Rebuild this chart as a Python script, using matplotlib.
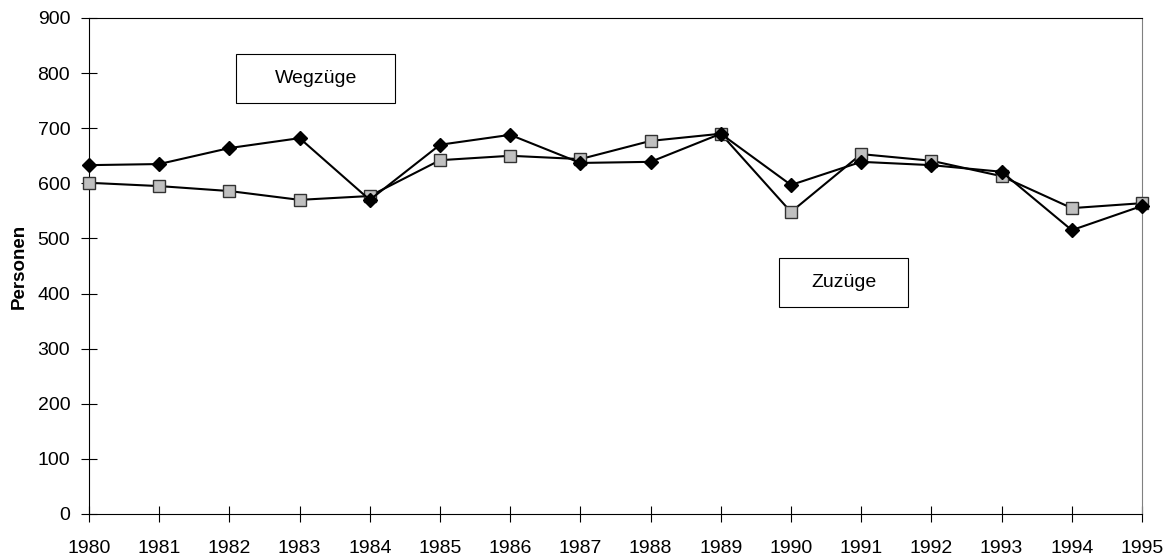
import matplotlib
matplotlib.use('Agg')
import matplotlib.pyplot as plt
from matplotlib.patches import Rectangle

plt.rcParams['font.family'] = ['Liberation Sans', 'DejaVu Sans']

years = list(range(1980, 1996))
wegzuege = [633, 635, 664, 682, 570, 670, 688, 637, 639, 690, 597, 639, 633, 621, 515, 559]
zuzuege = [601, 595, 586, 570, 577, 642, 650, 644, 677, 690, 548, 653, 641, 613, 555, 564]
yticks = list(range(0, 1000, 100))

fig = plt.figure(figsize=(11.68, 5.58), dpi=100)
ax = fig.add_axes([89 / 1168, 1 - 514 / 558, (1142 - 89) / 1168, (514 - 18) / 558])

ax.plot(years, zuzuege, color='black', lw=1.5, marker='s', ms=8,
        mfc='#c0c0c0', mec='#333333', mew=1.0, zorder=3, clip_on=False)
ax.plot(years, wegzuege, color='black', lw=1.5, marker='D', ms=7,
        mfc='black', mec='black', zorder=4, clip_on=False)

ax.set_xlim(1980, 1995)
ax.set_ylim(0, 900)
ax.set_xticks(years)
ax.set_yticks(yticks)
ax.tick_params(direction='inout', length=11, labelsize=14)
ax.tick_params(axis='x', pad=13)
ax.tick_params(axis='y', pad=8)
ax.spines['right'].set_color('#808080')
ax.set_ylabel('Personen', fontsize=13.5, fontweight='bold', labelpad=7)

# label boxes (centre, width, height in data units)
for label, cx, cy, w, h in [('Wegzüge', 1983.23, 790, 2.26, 89),
                            ('Zuzüge', 1990.75, 420, 1.84, 89)]:
    ax.add_patch(Rectangle((cx - w / 2, cy - h / 2), w, h, fc='white',
                           ec='black', lw=0.8, zorder=5))
    ax.text(cx, cy, label, ha='center', va='center', fontsize=14, zorder=6)

fig.savefig('out.png', dpi=100)
